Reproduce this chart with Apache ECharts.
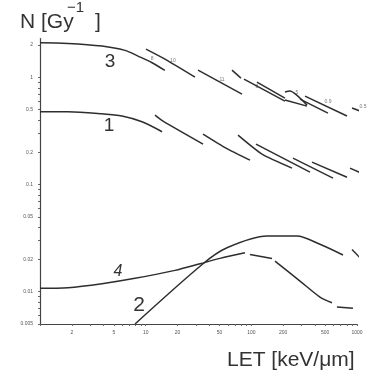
<!DOCTYPE html>
<html>
<head>
<meta charset="utf-8">
<script src="https://cdn.jsdelivr.net/npm/echarts@6/dist/echarts.min.js"></script>
<style>
  html, body { margin: 0; padding: 0; background: #fff; }
  #chart { width: 377px; height: 378px; }
</style>
</head>
<body>
<div id="chart"></div>
<script>
// Axis tick labels
const letTicks = [2, 5, 10, 20, 50, 100, 200, 500, 1000];
const nTicks = [0.005, 0.01, 0.02, 0.05, 0.1, 0.2, 0.5, 1, 2];

// Main curves: [LET keV/um, N per Gy]
const curve3 = [[1, 2.10], [1.84, 2.075], [3.86, 1.96], [6.37, 1.785], [8.46, 1.58], [11.5, 1.37], [15.2, 1.16]];
const curve1 = [[1, 0.477], [1.84, 0.477], [3.86, 0.457], [5.97, 0.436], [9.23, 0.385], [14.3, 0.311]];
const curve4a = [[1, 0.01075], [1.84, 0.01089], [3.86, 0.01187], [7.93, 0.01333], [18.95, 0.01582], [32.7, 0.01824], [50.5, 0.02047], [87.1, 0.0231]];
const curve4b = [[97.1, 0.0223], [156.8, 0.02047]];
const curve4c = [[167.4, 0.01933], [288.8, 0.01258], [446, 0.00892], [580, 0.00789]];
const curve4d = [[646, 0.0072], [916, 0.0070]];
const curve2a = [[7.93, 0.005], [34.9, 0.01824], [58.8, 0.0257], [140.6, 0.0331], [270, 0.0331], [446, 0.0277], [737, 0.022]];
const curve2b = [[897, 0.0248], [1271, 0.01735]];

// Single-ion segments near curve 3
const ions3 = [
  [[10.07, 1.836], [15.23, 1.481], [29.3, 1.006]],
  [[31.3, 1.169], [81.6, 0.698]],
  [[65.6, 1.169], [79.8, 0.985]],
  [[85.2, 0.963], [208, 0.601]],
  [[113, 0.903], [208, 0.641]],
  [[208, 0.729], [232, 0.745], [336.5, 0.551]],
  [[208, 0.614], [336.5, 0.539]],
  [[289, 0.627], [531, 0.464]],
  [[322, 0.668], [804, 0.436]],
  [[897, 0.518], [1271, 0.454]]
];
// Single-ion segments near curve 1
const ions1 = [
  [[12.25, 0.445], [14.6, 0.391], [34.9, 0.2386]],
  [[34.9, 0.296], [57.6, 0.219], [97.1, 0.169]],
  [[74.8, 0.289], [126.2, 0.1923], [242.6, 0.1425]],
  [[110.7, 0.2386], [359, 0.1307]],
  [[247.9, 0.1766], [593, 0.1149]],
  [[375, 0.162], [804, 0.117]],
  [[858, 0.1425], [1386, 0.1149]]
];
// Small tags on the ion segments
const ionTags = [[11.5, 1.512, '8'], [18.1, 1.418, '10'], [52.8, 0.963, '11'], [113, 0.811, '8'], [270, 0.713, '5'], [531, 0.588, '0.9'], [1139, 0.528, '0.5']];

function logTicks(lo, hi) {
  const out = [];
  for (let e = -3; e <= 3; e++) {
    for (let m = 1; m <= 9; m++) {
      const v = Number((m * Math.pow(10, e)).toPrecision(3));
      if (v >= lo * 0.999 && v <= hi * 1.001) out.push(v);
    }
  }
  return out;
}

const INK = '#2e2e2e';
const lineSeries = (data, smooth) => ({
  type: 'line',
  data: data,
  symbol: 'none',
  smooth: smooth === undefined ? 0.3 : smooth,
  clip: false,
  silent: true,
  lineStyle: { color: INK, width: 1.5 }
});

const series = [
  lineSeries(curve3), lineSeries(curve1),
  lineSeries(curve4a), lineSeries(curve4b), lineSeries(curve4c), lineSeries(curve4d),
  lineSeries(curve2a), lineSeries(curve2b)
];
ions3.forEach(s => series.push(lineSeries(s, 0.2)));
ions1.forEach(s => series.push(lineSeries(s, 0.2)));
series.push({
  type: 'scatter',
  data: ionTags,
  symbolSize: 0,
  clip: false,
  silent: true,
  label: {
    show: true,
    position: 'inside',
    formatter: p => p.value[2],
    fontSize: 5,
    color: '#555',
    fontFamily: 'Liberation Sans'
  }
});

const chart = echarts.init(document.getElementById('chart'), null, { renderer: 'canvas' });
chart.setOption({
  animation: false,
  backgroundColor: '#fff',
  grid: { left: 40, top: 38.6, width: 317, height: 285.4, containLabel: false },
  xAxis: {
    type: 'log', logBase: 10, min: 1, max: 1000,
    axisLine: { show: true, lineStyle: { color: '#444', width: 1.2 } },
    axisTick: { show: true, length: 2, inside: false, lineStyle: { color: '#666' }, customValues: logTicks(1, 1000) },
    axisLabel: { show: true, customValues: letTicks, formatter: v => String(v), fontSize: 5, color: '#555', margin: 6, fontFamily: 'Liberation Sans' },
    splitLine: { show: false }, minorTick: { show: false }
  },
  yAxis: {
    type: 'log', logBase: 10, min: 0.005, max: 2.3,
    axisLine: { show: true, lineStyle: { color: '#444', width: 1.2 } },
    axisTick: { show: true, length: 2, inside: false, lineStyle: { color: '#666' }, customValues: logTicks(0.005, 2) },
    axisLabel: { show: true, customValues: nTicks, formatter: v => String(v), fontSize: 5, color: '#555', margin: 7, fontFamily: 'Liberation Sans' },
    splitLine: { show: false }, minorTick: { show: false }
  },
  series: series,
  graphic: [
    { type: 'text', left: 20, top: 12, style: { text: 'N [Gy', font: '21px "Liberation Sans"', fill: '#333' } },
    { type: 'text', left: 67, top: 0, style: { text: '−1', font: '15px "Liberation Sans"', fill: '#333' } },
    { type: 'text', left: 95, top: 12, style: { text: ']', font: '21px "Liberation Sans"', fill: '#333' } },
    { type: 'text', left: 227, top: 350, style: { text: 'LET [keV/\u03bcm]', font: '21px "Liberation Sans"', fill: '#333' } },
    { type: 'text', x: 110, y: 62, style: { text: '3', font: '19px "Liberation Sans"', fill: '#333', align: 'center', verticalAlign: 'middle' } },
    { type: 'text', x: 109, y: 126, style: { text: '1', font: '19px "Liberation Sans"', fill: '#333', align: 'center', verticalAlign: 'middle' } },
    { type: 'text', x: 118, y: 272, style: { text: '4', font: 'italic 16px "Liberation Sans"', fill: '#333', align: 'center', verticalAlign: 'middle' } },
    { type: 'text', x: 139, y: 305, style: { text: '2', font: '21px "Liberation Sans"', fill: '#333', align: 'center', verticalAlign: 'middle' } }
  ]
});
</script>
</body>
</html>
